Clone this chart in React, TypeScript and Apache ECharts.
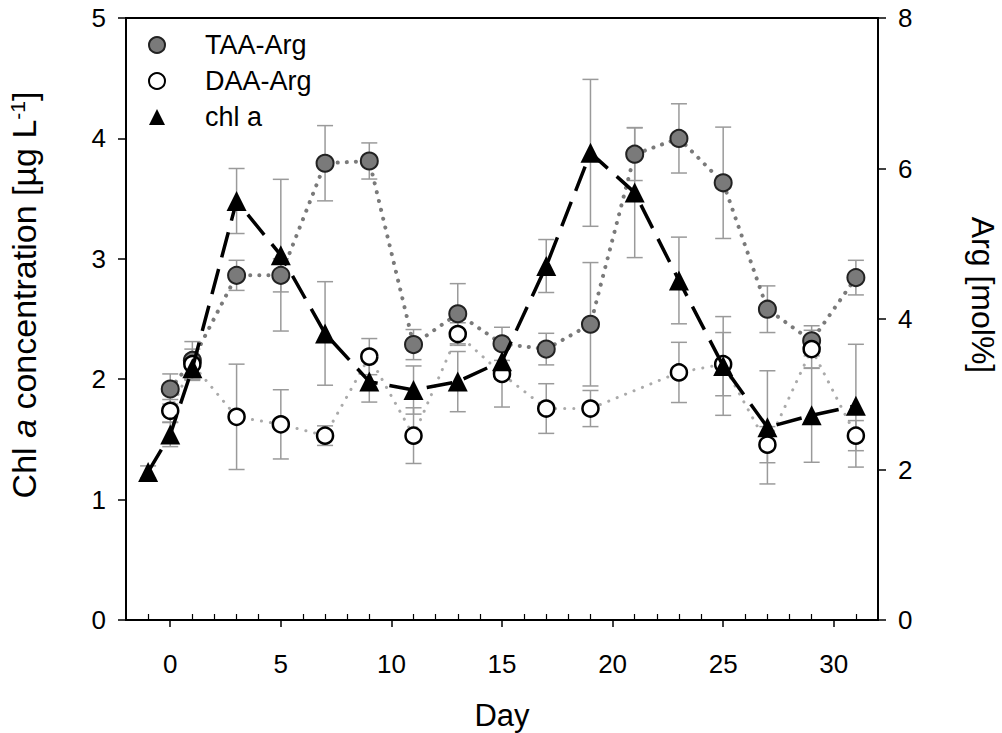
import React, { useEffect, useRef } from "react";
import * as echarts from "echarts";

// ---- data ----
const chlDays = [-1, 0, 1, 3, 5, 7, 9, 11, 13, 15, 17, 19, 21, 23, 25, 27, 29, 31];
const chlValues = [1.23, 1.54, 2.09, 3.48, 3.03, 2.38, 1.98, 1.91, 1.98, 2.15, 2.94, 3.88, 3.55, 2.82, 2.11, 1.6, 1.7, 1.78];
const chlErrors = [0.05, 0.1, 0.1, 0.27, 0.63, 0.43, 0.17, 0.2, 0.25, 0.15, 0.22, 0.61, 0.54, 0.36, 0.41, 0.47, 0.39, 0.51];

const taaDays = [0, 1, 3, 5, 7, 9, 11, 13, 15, 17, 19, 21, 23, 25, 27, 29, 31];
const taaValues = [3.07, 3.45, 4.58, 4.58, 6.07, 6.1, 3.66, 4.07, 3.67, 3.6, 3.93, 6.19, 6.4, 5.81, 4.13, 3.71, 4.55];
const taaErrors = [0.2, 0.25, 0.2, 0.22, 0.5, 0.24, 0.2, 0.4, 0.22, 0.21, 0.82, 0.35, 0.46, 0.74, 0.31, 0.2, 0.23];

const daaDays = [0, 1, 3, 5, 7, 9, 11, 13, 15, 17, 19, 23, 25, 27, 29, 31];
const daaValues = [2.78, 3.4, 2.7, 2.6, 2.45, 3.5, 2.45, 3.8, 3.27, 2.81, 2.81, 3.29, 3.4, 2.33, 3.6, 2.45];
const daaErrors = [0.15, 0.2, 0.7, 0.46, 0.13, 0.24, 0.37, 0.15, 0.44, 0.33, 0.24, 0.4, 0.42, 0.24, 0.25, 0.2];

const xMajorTicks = [0, 5, 10, 15, 20, 25, 30];
const xMinorTicks = [-1, 1, 2, 3, 4, 6, 7, 8, 9, 11, 12, 13, 14, 16, 17, 18, 19, 21, 22, 23, 24, 26, 27, 28, 29, 31];

const FONT = "'Liberation Sans', Arial, Helvetica, sans-serif";

function pairs(xs: number[], ys: number[]) {
  return xs.map((x, i) => [x, ys[i]]);
}

function errorSeries(name: string, xs: number[], ys: number[], es: number[], yAxisIndex: number) {
  return {
    name,
    type: "custom",
    xAxisIndex: 0,
    yAxisIndex,
    silent: true,
    z: 1,
    data: xs.map((x, i) => [x, ys[i], es[i]]),
    encode: { x: 0, y: 1 },
    renderItem: (_params: any, api: any) => {
      const x = api.value(0);
      const y = api.value(1);
      const e = api.value(2);
      const top = api.coord([x, y + e]);
      const bot = api.coord([x, y - e]);
      const hw = 8;
      const style = { stroke: "#9a9a9a", lineWidth: 1.5 };
      return {
        type: "group",
        children: [
          { type: "line", shape: { x1: top[0], y1: top[1], x2: bot[0], y2: bot[1] }, style },
          { type: "line", shape: { x1: top[0] - hw, y1: top[1], x2: top[0] + hw, y2: top[1] }, style },
          { type: "line", shape: { x1: bot[0] - hw, y1: bot[1], x2: bot[0] + hw, y2: bot[1] }, style },
        ],
      };
    },
  };
}

export default function App() {
  const ref = useRef<HTMLDivElement>(null);

  useEffect(() => {
    if (!ref.current) return;
    const chart = echarts.init(ref.current, null, { renderer: "svg" });
    const option: any = {
      animation: false,
      backgroundColor: "#ffffff",
      textStyle: { fontFamily: FONT, color: "#000" },
      grid: {
        left: 126,
        right: 124,
        top: 18,
        bottom: 113,
        outerBoundsMode: "none",
        containLabel: false,
        show: true,
        borderColor: "#000",
        borderWidth: 2,
        backgroundColor: "transparent",
      },
      legend: {
        orient: "vertical",
        left: 143,
        top: 22,
        itemWidth: 16,
        itemHeight: 16,
        itemGap: 0,
        selectedMode: false,
        textStyle: { fontSize: 27, fontFamily: FONT, color: "#000", lineHeight: 36, padding: [0, 0, 0, 35] },
        data: [
          { name: "TAA-Arg", icon: "circle", itemStyle: { color: "#7a7a7a", borderColor: "#222", borderWidth: 2 } },
          { name: "DAA-Arg", icon: "circle", itemStyle: { color: "#fff", borderColor: "#000", borderWidth: 2 } },
          { name: "chl a", icon: "triangle", itemStyle: { color: "#000", borderWidth: 0 } },
        ],
      },
      xAxis: [
        {
          type: "value",
          min: -2,
          max: 32,
          name: "Day",
          nameLocation: "middle",
          nameGap: 80,
          nameTextStyle: { fontSize: 31, fontFamily: FONT, color: "#000" },
          axisLine: { show: true, onZero: false, lineStyle: { color: "#000", width: 2 } },
          axisTick: { show: true, inside: false, length: 7, customValues: xMajorTicks, lineStyle: { color: "#000", width: 1.5 } },
          axisLabel: { show: true, customValues: xMajorTicks, fontSize: 26, fontFamily: FONT, color: "#000", margin: 31 },
          splitLine: { show: false },
        },
        {
          type: "value",
          position: "bottom",
          min: -2,
          max: 32,
          axisLine: { show: false, onZero: false },
          axisTick: { show: true, inside: true, length: 6, customValues: xMinorTicks, lineStyle: { color: "#000", width: 1.2 } },
          axisLabel: { show: false },
          splitLine: { show: false },
        },
      ],
      yAxis: [
        {
          type: "value",
          min: 0,
          max: 5,
          interval: 1,
          position: "left",
          name: "{t|Chl }{i|a}{t| concentration [µg L}{s|-1}{t|]}",
          nameLocation: "middle",
          nameGap: 85,
          nameTextStyle: {
            fontSize: 34,
            fontFamily: FONT,
            color: "#000",
            padding: [0, 0, 0, 48],
            rich: {
              t: { fontSize: 34, fontFamily: FONT, color: "#000" },
              i: { fontSize: 34, fontFamily: FONT, color: "#000", fontStyle: "italic" },
              s: { fontSize: 21, fontFamily: FONT, color: "#000", verticalAlign: "top", padding: [0, 0, 12, 0] },
            },
          },
          axisLine: { show: true, onZero: false, lineStyle: { color: "#000", width: 2 } },
          axisTick: { show: true, inside: false, length: 8, lineStyle: { color: "#000", width: 1.5 } },
          axisLabel: { fontSize: 26, fontFamily: FONT, color: "#000", margin: 20 },
          splitLine: { show: false },
        },
        {
          type: "value",
          min: 0,
          max: 8,
          interval: 2,
          position: "right",
          name: "Arg [mol%]",
          nameLocation: "middle",
          nameRotate: -90,
          nameGap: 89,
          nameTextStyle: { fontSize: 32, fontFamily: FONT, color: "#000", padding: [0, 48, 0, 0] },
          axisLine: { show: true, onZero: false, lineStyle: { color: "#000", width: 2 } },
          axisTick: { show: true, inside: false, length: 8, lineStyle: { color: "#000", width: 1.5 } },
          axisLabel: { fontSize: 26, fontFamily: FONT, color: "#000", margin: 20 },
          splitLine: { show: false },
        },
      ],
      series: [
        errorSeries("taaErr", taaDays, taaValues, taaErrors, 1),
        errorSeries("daaErr", daaDays, daaValues, daaErrors, 1),
        errorSeries("chlErr", chlDays, chlValues, chlErrors, 0),
        {
          name: "TAA-Arg",
          type: "line",
          xAxisIndex: 0,
          yAxisIndex: 1,
          data: pairs(taaDays, taaValues),
          z: 3,
          symbol: "circle",
          symbolSize: 17,
          itemStyle: { color: "#7a7a7a", borderColor: "#222", borderWidth: 2 },
          lineStyle: { color: "#7a7a7a", width: 4, type: [0.1, 9], cap: "round" },
        },
        {
          name: "DAA-Arg",
          type: "line",
          xAxisIndex: 0,
          yAxisIndex: 1,
          data: pairs(daaDays, daaValues),
          z: 3,
          symbol: "circle",
          symbolSize: 16,
          itemStyle: { color: "#fff", borderColor: "#000", borderWidth: 2.5 },
          lineStyle: { color: "#aaaaaa", width: 3, type: [0.1, 9], cap: "round" },
        },
        {
          name: "chl a",
          type: "line",
          xAxisIndex: 0,
          yAxisIndex: 0,
          data: pairs(chlDays, chlValues),
          z: 4,
          symbol: "triangle",
          symbolSize: 20,
          itemStyle: { color: "#000", borderWidth: 0 },
          lineStyle: { color: "#000", width: 3.5, type: [26, 12] },
        },
      ],
    };
    chart.setOption(option);
    return () => chart.dispose();
  }, []);

  return (
    <div
      ref={ref}
      style={{ position: "fixed", left: 0, top: 0, width: 1002, height: 733, background: "#fff" }}
    />
  );
}
